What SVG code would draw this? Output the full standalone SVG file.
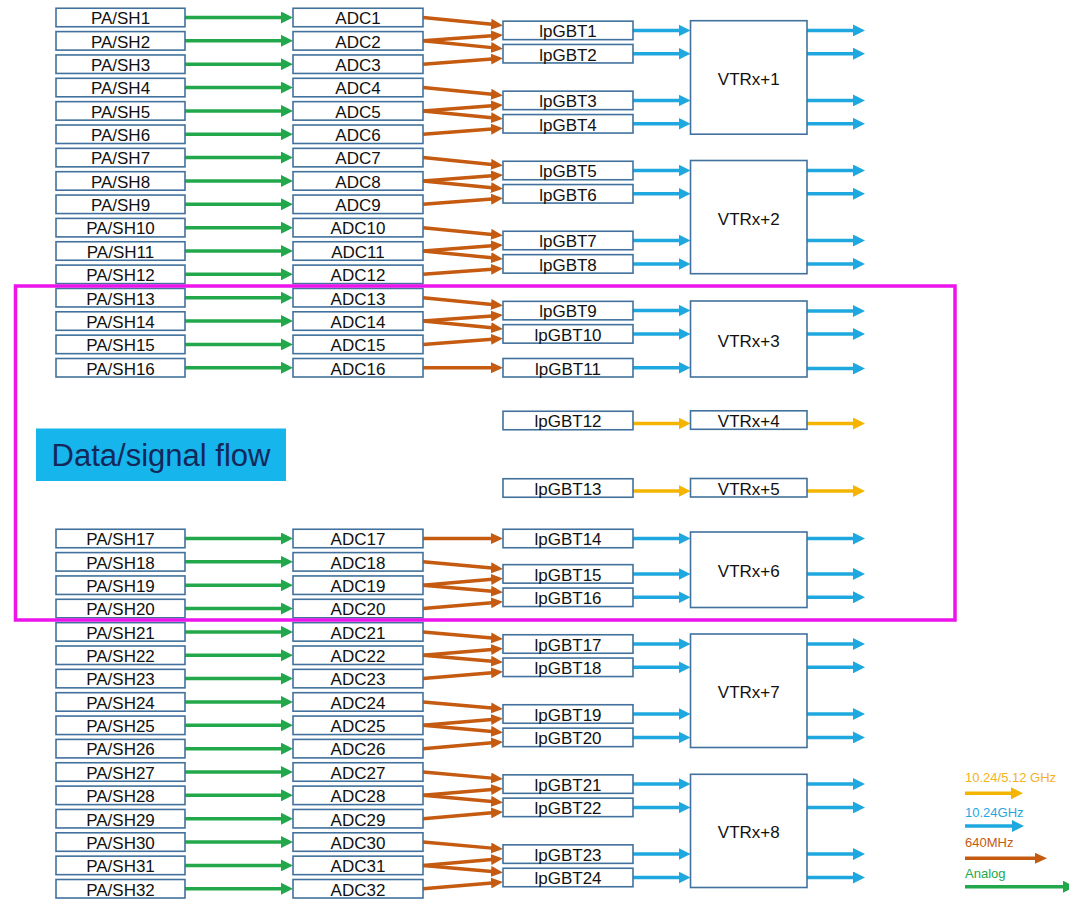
<svg xmlns="http://www.w3.org/2000/svg" width="1069" height="900" viewBox="0 0 1069 900">
<style>
.box{fill:#fff;stroke:#41719C;stroke-width:1.6}
.lbl{font-family:"Liberation Sans",Arial,sans-serif;font-size:17px;text-anchor:middle;fill:#111}
.leg{font-family:"Liberation Sans",Arial,sans-serif;font-size:13px}
.g{stroke:#22A84A;stroke-width:3.5;fill:none;marker-end:url(#mg)}
.br{stroke:#C55A11;stroke-width:3.5;fill:none;marker-end:url(#mb)}
.bl{stroke:#1FA8E0;stroke-width:3.5;fill:none;marker-end:url(#mc)}
.ye{stroke:#F5B400;stroke-width:3.5;fill:none;marker-end:url(#my)}
</style>
<defs>
<marker id="mg" markerUnits="userSpaceOnUse" markerWidth="12" markerHeight="12" refX="1" refY="6" orient="auto"><path d="M0,0 L12,6 L0,12 z" fill="#22A84A"/></marker>
<marker id="mb" markerUnits="userSpaceOnUse" markerWidth="12" markerHeight="11" refX="1" refY="5.5" orient="auto"><path d="M0,0 L12,5.5 L0,11 z" fill="#C55A11"/></marker>
<marker id="mc" markerUnits="userSpaceOnUse" markerWidth="12" markerHeight="12" refX="1" refY="6" orient="auto"><path d="M0,0 L12,6 L0,12 z" fill="#1FA8E0"/></marker>
<marker id="my" markerUnits="userSpaceOnUse" markerWidth="12" markerHeight="12" refX="1" refY="6" orient="auto"><path d="M0,0 L12,6 L0,12 z" fill="#F5B400"/></marker>
</defs>
<rect width="1069" height="900" fill="#fff"/>

<g id="connectors">
<!-- green PA/SH -> ADC -->
<line class="g" x1="185" y1="17.5" x2="282" y2="17.5"/>
<line class="g" x1="185" y1="40.85" x2="282" y2="40.85"/>
<line class="g" x1="185" y1="64.2" x2="282" y2="64.2"/>
<line class="g" x1="185" y1="87.55" x2="282" y2="87.55"/>
<line class="g" x1="185" y1="110.9" x2="282" y2="110.9"/>
<line class="g" x1="185" y1="134.25" x2="282" y2="134.25"/>
<line class="g" x1="185" y1="157.6" x2="282" y2="157.6"/>
<line class="g" x1="185" y1="180.95" x2="282" y2="180.95"/>
<line class="g" x1="185" y1="204.3" x2="282" y2="204.3"/>
<line class="g" x1="185" y1="227.65" x2="282" y2="227.65"/>
<line class="g" x1="185" y1="251" x2="282" y2="251"/>
<line class="g" x1="185" y1="274.35" x2="282" y2="274.35"/>
<line class="g" x1="185" y1="297.7" x2="282" y2="297.7"/>
<line class="g" x1="185" y1="321.05" x2="282" y2="321.05"/>
<line class="g" x1="185" y1="344.4" x2="282" y2="344.4"/>
<line class="g" x1="185" y1="367.75" x2="282" y2="367.75"/>
<line class="g" x1="185" y1="538.5" x2="282" y2="538.5"/>
<line class="g" x1="185" y1="561.85" x2="282" y2="561.85"/>
<line class="g" x1="185" y1="585.2" x2="282" y2="585.2"/>
<line class="g" x1="185" y1="608.55" x2="282" y2="608.55"/>
<line class="g" x1="185" y1="631.9" x2="282" y2="631.9"/>
<line class="g" x1="185" y1="655.25" x2="282" y2="655.25"/>
<line class="g" x1="185" y1="678.6" x2="282" y2="678.6"/>
<line class="g" x1="185" y1="701.95" x2="282" y2="701.95"/>
<line class="g" x1="185" y1="725.3" x2="282" y2="725.3"/>
<line class="g" x1="185" y1="748.65" x2="282" y2="748.65"/>
<line class="g" x1="185" y1="772" x2="282" y2="772"/>
<line class="g" x1="185" y1="795.35" x2="282" y2="795.35"/>
<line class="g" x1="185" y1="818.7" x2="282" y2="818.7"/>
<line class="g" x1="185" y1="842.05" x2="282" y2="842.05"/>
<line class="g" x1="185" y1="865.4" x2="282" y2="865.4"/>
<line class="g" x1="185" y1="888.75" x2="282" y2="888.75"/>
<!-- brown ADC -> lpGBT -->
<line class="br" x1="423" y1="17.5" x2="492" y2="24.32"/>
<line class="br" x1="423" y1="40.85" x2="492" y2="35.72"/>
<line class="br" x1="423" y1="40.85" x2="492" y2="47.63"/>
<line class="br" x1="423" y1="64.2" x2="492" y2="59.02"/>
<line class="br" x1="423" y1="87.55" x2="492" y2="94.33"/>
<line class="br" x1="423" y1="110.9" x2="492" y2="105.72"/>
<line class="br" x1="423" y1="110.9" x2="492" y2="117.72"/>
<line class="br" x1="423" y1="134.25" x2="492" y2="129.12"/>
<line class="br" x1="423" y1="157.6" x2="492" y2="164.42"/>
<line class="br" x1="423" y1="180.95" x2="492" y2="175.82"/>
<line class="br" x1="423" y1="180.95" x2="492" y2="187.73"/>
<line class="br" x1="423" y1="204.3" x2="492" y2="199.12"/>
<line class="br" x1="423" y1="227.65" x2="492" y2="234.43"/>
<line class="br" x1="423" y1="251" x2="492" y2="245.82"/>
<line class="br" x1="423" y1="251" x2="492" y2="257.82"/>
<line class="br" x1="423" y1="274.35" x2="492" y2="269.22"/>
<line class="br" x1="423" y1="297.7" x2="492" y2="304.52"/>
<line class="br" x1="423" y1="321.05" x2="492" y2="315.92"/>
<line class="br" x1="423" y1="321.05" x2="492" y2="327.83"/>
<line class="br" x1="423" y1="344.4" x2="492" y2="339.22"/>
<line class="br" x1="423" y1="367.75" x2="492" y2="367.75"/>
<line class="br" x1="423" y1="538.5" x2="492" y2="538.5"/>
<line class="br" x1="423" y1="561.85" x2="492" y2="567.93"/>
<line class="br" x1="423" y1="585.2" x2="492" y2="579.33"/>
<line class="br" x1="423" y1="585.2" x2="492" y2="591.33"/>
<line class="br" x1="423" y1="608.55" x2="492" y2="602.72"/>
<line class="br" x1="423" y1="631.9" x2="492" y2="638.03"/>
<line class="br" x1="423" y1="655.25" x2="492" y2="649.42"/>
<line class="br" x1="423" y1="655.25" x2="492" y2="661.33"/>
<line class="br" x1="423" y1="678.6" x2="492" y2="672.73"/>
<line class="br" x1="423" y1="701.95" x2="492" y2="708.03"/>
<line class="br" x1="423" y1="725.3" x2="492" y2="719.43"/>
<line class="br" x1="423" y1="725.3" x2="492" y2="731.43"/>
<line class="br" x1="423" y1="748.65" x2="492" y2="742.82"/>
<line class="br" x1="423" y1="772" x2="492" y2="778.13"/>
<line class="br" x1="423" y1="795.35" x2="492" y2="789.52"/>
<line class="br" x1="423" y1="795.35" x2="492" y2="801.43"/>
<line class="br" x1="423" y1="818.7" x2="492" y2="812.83"/>
<line class="br" x1="423" y1="842.05" x2="492" y2="848.13"/>
<line class="br" x1="423" y1="865.4" x2="492" y2="859.53"/>
<line class="br" x1="423" y1="865.4" x2="492" y2="871.53"/>
<line class="br" x1="423" y1="888.75" x2="492" y2="882.92"/>
<!-- blue lpGBT -> VTRx and outputs -->
<path class="bl" d="M633,30.4H679.5"/><path class="bl" d="M807,30.4H854"/>
<path class="bl" d="M633,53.7H679.5"/><path class="bl" d="M807,53.7H854"/>
<path class="bl" d="M633,100.4H679.5"/><path class="bl" d="M807,100.4H854"/>
<path class="bl" d="M633,123.8H679.5"/><path class="bl" d="M807,123.8H854"/>
<path class="bl" d="M633,170.5H679.5"/><path class="bl" d="M807,170.5H854"/>
<path class="bl" d="M633,193.8H679.5"/><path class="bl" d="M807,193.8H854"/>
<path class="bl" d="M633,240.5H679.5"/><path class="bl" d="M807,240.5H854"/>
<path class="bl" d="M633,263.9H679.5"/><path class="bl" d="M807,263.9H854"/>
<path class="bl" d="M633,310.6H679.5"/><path class="bl" d="M807,311H854"/>
<path class="bl" d="M633,333.9H679.5"/><path class="bl" d="M807,334H854"/>
<path class="bl" d="M633,367.75H679.5"/><path class="bl" d="M807,368.5H854"/>
<path class="bl" d="M633,538.5H679.5"/><path class="bl" d="M807,538.5H854"/>
<path class="bl" d="M633,573.9H679.5"/><path class="bl" d="M807,573.9H854"/>
<path class="bl" d="M633,597.3H679.5"/><path class="bl" d="M807,597.3H854"/>
<path class="bl" d="M633,644H679.5"/><path class="bl" d="M807,644H854"/>
<path class="bl" d="M633,667.3H679.5"/><path class="bl" d="M807,667.3H854"/>
<path class="bl" d="M633,714H679.5"/><path class="bl" d="M807,714H854"/>
<path class="bl" d="M633,737.4H679.5"/><path class="bl" d="M807,737.4H854"/>
<path class="bl" d="M633,784.1H679.5"/><path class="bl" d="M807,784.1H854"/>
<path class="bl" d="M633,807.4H679.5"/><path class="bl" d="M807,807.4H854"/>
<path class="bl" d="M633,854.1H679.5"/><path class="bl" d="M807,854.1H854"/>
<path class="bl" d="M633,877.5H679.5"/><path class="bl" d="M807,877.5H854"/>
<!-- yellow -->
<path class="ye" d="M633,423.5H679.5"/><path class="ye" d="M807,423.5H854"/>
<path class="ye" d="M633,491H679.5"/><path class="ye" d="M807,491H854"/>
</g>

<g id="pash">
<g id="pash1"><rect class="box" x="56" y="8.25" width="129" height="18.5"/><text class="lbl" x="120.5" y="24.3">PA/SH1</text></g>
<g id="pash2"><rect class="box" x="56" y="31.6" width="129" height="18.5"/><text class="lbl" x="120.5" y="47.65">PA/SH2</text></g>
<g id="pash3"><rect class="box" x="56" y="54.95" width="129" height="18.5"/><text class="lbl" x="120.5" y="71">PA/SH3</text></g>
<g id="pash4"><rect class="box" x="56" y="78.3" width="129" height="18.5"/><text class="lbl" x="120.5" y="94.35">PA/SH4</text></g>
<g id="pash5"><rect class="box" x="56" y="101.65" width="129" height="18.5"/><text class="lbl" x="120.5" y="117.7">PA/SH5</text></g>
<g id="pash6"><rect class="box" x="56" y="125" width="129" height="18.5"/><text class="lbl" x="120.5" y="141.05">PA/SH6</text></g>
<g id="pash7"><rect class="box" x="56" y="148.35" width="129" height="18.5"/><text class="lbl" x="120.5" y="164.4">PA/SH7</text></g>
<g id="pash8"><rect class="box" x="56" y="171.7" width="129" height="18.5"/><text class="lbl" x="120.5" y="187.75">PA/SH8</text></g>
<g id="pash9"><rect class="box" x="56" y="195.05" width="129" height="18.5"/><text class="lbl" x="120.5" y="211.1">PA/SH9</text></g>
<g id="pash10"><rect class="box" x="56" y="218.4" width="129" height="18.5"/><text class="lbl" x="120.5" y="234.45">PA/SH10</text></g>
<g id="pash11"><rect class="box" x="56" y="241.75" width="129" height="18.5"/><text class="lbl" x="120.5" y="257.8">PA/SH11</text></g>
<g id="pash12"><rect class="box" x="56" y="265.1" width="129" height="18.5"/><text class="lbl" x="120.5" y="281.15">PA/SH12</text></g>
<g id="pash13"><rect class="box" x="56" y="288.45" width="129" height="18.5"/><text class="lbl" x="120.5" y="304.5">PA/SH13</text></g>
<g id="pash14"><rect class="box" x="56" y="311.8" width="129" height="18.5"/><text class="lbl" x="120.5" y="327.85">PA/SH14</text></g>
<g id="pash15"><rect class="box" x="56" y="335.15" width="129" height="18.5"/><text class="lbl" x="120.5" y="351.2">PA/SH15</text></g>
<g id="pash16"><rect class="box" x="56" y="358.5" width="129" height="18.5"/><text class="lbl" x="120.5" y="374.55">PA/SH16</text></g>
<g id="pash17"><rect class="box" x="56" y="529.25" width="129" height="18.5"/><text class="lbl" x="120.5" y="545.3">PA/SH17</text></g>
<g id="pash18"><rect class="box" x="56" y="552.6" width="129" height="18.5"/><text class="lbl" x="120.5" y="568.65">PA/SH18</text></g>
<g id="pash19"><rect class="box" x="56" y="575.95" width="129" height="18.5"/><text class="lbl" x="120.5" y="592">PA/SH19</text></g>
<g id="pash20"><rect class="box" x="56" y="599.3" width="129" height="18.5"/><text class="lbl" x="120.5" y="615.35">PA/SH20</text></g>
<g id="pash21"><rect class="box" x="56" y="622.65" width="129" height="18.5"/><text class="lbl" x="120.5" y="638.7">PA/SH21</text></g>
<g id="pash22"><rect class="box" x="56" y="646" width="129" height="18.5"/><text class="lbl" x="120.5" y="662.05">PA/SH22</text></g>
<g id="pash23"><rect class="box" x="56" y="669.35" width="129" height="18.5"/><text class="lbl" x="120.5" y="685.4">PA/SH23</text></g>
<g id="pash24"><rect class="box" x="56" y="692.7" width="129" height="18.5"/><text class="lbl" x="120.5" y="708.75">PA/SH24</text></g>
<g id="pash25"><rect class="box" x="56" y="716.05" width="129" height="18.5"/><text class="lbl" x="120.5" y="732.1">PA/SH25</text></g>
<g id="pash26"><rect class="box" x="56" y="739.4" width="129" height="18.5"/><text class="lbl" x="120.5" y="755.45">PA/SH26</text></g>
<g id="pash27"><rect class="box" x="56" y="762.75" width="129" height="18.5"/><text class="lbl" x="120.5" y="778.8">PA/SH27</text></g>
<g id="pash28"><rect class="box" x="56" y="786.1" width="129" height="18.5"/><text class="lbl" x="120.5" y="802.15">PA/SH28</text></g>
<g id="pash29"><rect class="box" x="56" y="809.45" width="129" height="18.5"/><text class="lbl" x="120.5" y="825.5">PA/SH29</text></g>
<g id="pash30"><rect class="box" x="56" y="832.8" width="129" height="18.5"/><text class="lbl" x="120.5" y="848.85">PA/SH30</text></g>
<g id="pash31"><rect class="box" x="56" y="856.15" width="129" height="18.5"/><text class="lbl" x="120.5" y="872.2">PA/SH31</text></g>
<g id="pash32"><rect class="box" x="56" y="879.5" width="129" height="18.5"/><text class="lbl" x="120.5" y="895.55">PA/SH32</text></g>
</g>

<g id="adc">
<g id="adc1"><rect class="box" x="293" y="8.25" width="130" height="18.5"/><text class="lbl" x="358" y="24.3">ADC1</text></g>
<g id="adc2"><rect class="box" x="293" y="31.6" width="130" height="18.5"/><text class="lbl" x="358" y="47.65">ADC2</text></g>
<g id="adc3"><rect class="box" x="293" y="54.95" width="130" height="18.5"/><text class="lbl" x="358" y="71">ADC3</text></g>
<g id="adc4"><rect class="box" x="293" y="78.3" width="130" height="18.5"/><text class="lbl" x="358" y="94.35">ADC4</text></g>
<g id="adc5"><rect class="box" x="293" y="101.65" width="130" height="18.5"/><text class="lbl" x="358" y="117.7">ADC5</text></g>
<g id="adc6"><rect class="box" x="293" y="125" width="130" height="18.5"/><text class="lbl" x="358" y="141.05">ADC6</text></g>
<g id="adc7"><rect class="box" x="293" y="148.35" width="130" height="18.5"/><text class="lbl" x="358" y="164.4">ADC7</text></g>
<g id="adc8"><rect class="box" x="293" y="171.7" width="130" height="18.5"/><text class="lbl" x="358" y="187.75">ADC8</text></g>
<g id="adc9"><rect class="box" x="293" y="195.05" width="130" height="18.5"/><text class="lbl" x="358" y="211.1">ADC9</text></g>
<g id="adc10"><rect class="box" x="293" y="218.4" width="130" height="18.5"/><text class="lbl" x="358" y="234.45">ADC10</text></g>
<g id="adc11"><rect class="box" x="293" y="241.75" width="130" height="18.5"/><text class="lbl" x="358" y="257.8">ADC11</text></g>
<g id="adc12"><rect class="box" x="293" y="265.1" width="130" height="18.5"/><text class="lbl" x="358" y="281.15">ADC12</text></g>
<g id="adc13"><rect class="box" x="293" y="288.45" width="130" height="18.5"/><text class="lbl" x="358" y="304.5">ADC13</text></g>
<g id="adc14"><rect class="box" x="293" y="311.8" width="130" height="18.5"/><text class="lbl" x="358" y="327.85">ADC14</text></g>
<g id="adc15"><rect class="box" x="293" y="335.15" width="130" height="18.5"/><text class="lbl" x="358" y="351.2">ADC15</text></g>
<g id="adc16"><rect class="box" x="293" y="358.5" width="130" height="18.5"/><text class="lbl" x="358" y="374.55">ADC16</text></g>
<g id="adc17"><rect class="box" x="293" y="529.25" width="130" height="18.5"/><text class="lbl" x="358" y="545.3">ADC17</text></g>
<g id="adc18"><rect class="box" x="293" y="552.6" width="130" height="18.5"/><text class="lbl" x="358" y="568.65">ADC18</text></g>
<g id="adc19"><rect class="box" x="293" y="575.95" width="130" height="18.5"/><text class="lbl" x="358" y="592">ADC19</text></g>
<g id="adc20"><rect class="box" x="293" y="599.3" width="130" height="18.5"/><text class="lbl" x="358" y="615.35">ADC20</text></g>
<g id="adc21"><rect class="box" x="293" y="622.65" width="130" height="18.5"/><text class="lbl" x="358" y="638.7">ADC21</text></g>
<g id="adc22"><rect class="box" x="293" y="646" width="130" height="18.5"/><text class="lbl" x="358" y="662.05">ADC22</text></g>
<g id="adc23"><rect class="box" x="293" y="669.35" width="130" height="18.5"/><text class="lbl" x="358" y="685.4">ADC23</text></g>
<g id="adc24"><rect class="box" x="293" y="692.7" width="130" height="18.5"/><text class="lbl" x="358" y="708.75">ADC24</text></g>
<g id="adc25"><rect class="box" x="293" y="716.05" width="130" height="18.5"/><text class="lbl" x="358" y="732.1">ADC25</text></g>
<g id="adc26"><rect class="box" x="293" y="739.4" width="130" height="18.5"/><text class="lbl" x="358" y="755.45">ADC26</text></g>
<g id="adc27"><rect class="box" x="293" y="762.75" width="130" height="18.5"/><text class="lbl" x="358" y="778.8">ADC27</text></g>
<g id="adc28"><rect class="box" x="293" y="786.1" width="130" height="18.5"/><text class="lbl" x="358" y="802.15">ADC28</text></g>
<g id="adc29"><rect class="box" x="293" y="809.45" width="130" height="18.5"/><text class="lbl" x="358" y="825.5">ADC29</text></g>
<g id="adc30"><rect class="box" x="293" y="832.8" width="130" height="18.5"/><text class="lbl" x="358" y="848.85">ADC30</text></g>
<g id="adc31"><rect class="box" x="293" y="856.15" width="130" height="18.5"/><text class="lbl" x="358" y="872.2">ADC31</text></g>
<g id="adc32"><rect class="box" x="293" y="879.5" width="130" height="18.5"/><text class="lbl" x="358" y="895.55">ADC32</text></g>
</g>

<g id="lpgbt">
<g id="lpgbt1"><rect class="box" x="503" y="21.15" width="130" height="18.5"/><text class="lbl" x="568" y="37.2">lpGBT1</text></g>
<g id="lpgbt2"><rect class="box" x="503" y="44.45" width="130" height="18.5"/><text class="lbl" x="568" y="60.5">lpGBT2</text></g>
<g id="lpgbt3"><rect class="box" x="503" y="91.15" width="130" height="18.5"/><text class="lbl" x="568" y="107.2">lpGBT3</text></g>
<g id="lpgbt4"><rect class="box" x="503" y="114.55" width="130" height="18.5"/><text class="lbl" x="568" y="130.6">lpGBT4</text></g>
<g id="lpgbt5"><rect class="box" x="503" y="161.25" width="130" height="18.5"/><text class="lbl" x="568" y="177.3">lpGBT5</text></g>
<g id="lpgbt6"><rect class="box" x="503" y="184.55" width="130" height="18.5"/><text class="lbl" x="568" y="200.6">lpGBT6</text></g>
<g id="lpgbt7"><rect class="box" x="503" y="231.25" width="130" height="18.5"/><text class="lbl" x="568" y="247.3">lpGBT7</text></g>
<g id="lpgbt8"><rect class="box" x="503" y="254.65" width="130" height="18.5"/><text class="lbl" x="568" y="270.7">lpGBT8</text></g>
<g id="lpgbt9"><rect class="box" x="503" y="301.35" width="130" height="18.5"/><text class="lbl" x="568" y="317.4">lpGBT9</text></g>
<g id="lpgbt10"><rect class="box" x="503" y="324.65" width="130" height="18.5"/><text class="lbl" x="568" y="340.7">lpGBT10</text></g>
<g id="lpgbt11"><rect class="box" x="503" y="358.5" width="130" height="18.5"/><text class="lbl" x="568" y="374.55">lpGBT11</text></g>
<g id="lpgbt12"><rect class="box" x="503" y="411.25" width="130" height="18.5"/><text class="lbl" x="568" y="427.3">lpGBT12</text></g>
<g id="lpgbt13"><rect class="box" x="503" y="478.75" width="130" height="18.5"/><text class="lbl" x="568" y="494.8">lpGBT13</text></g>
<g id="lpgbt14"><rect class="box" x="503" y="529.25" width="130" height="18.5"/><text class="lbl" x="568" y="545.3">lpGBT14</text></g>
<g id="lpgbt15"><rect class="box" x="503" y="564.65" width="130" height="18.5"/><text class="lbl" x="568" y="580.7">lpGBT15</text></g>
<g id="lpgbt16"><rect class="box" x="503" y="588.05" width="130" height="18.5"/><text class="lbl" x="568" y="604.1">lpGBT16</text></g>
<g id="lpgbt17"><rect class="box" x="503" y="634.75" width="130" height="18.5"/><text class="lbl" x="568" y="650.8">lpGBT17</text></g>
<g id="lpgbt18"><rect class="box" x="503" y="658.05" width="130" height="18.5"/><text class="lbl" x="568" y="674.1">lpGBT18</text></g>
<g id="lpgbt19"><rect class="box" x="503" y="704.75" width="130" height="18.5"/><text class="lbl" x="568" y="720.8">lpGBT19</text></g>
<g id="lpgbt20"><rect class="box" x="503" y="728.15" width="130" height="18.5"/><text class="lbl" x="568" y="744.2">lpGBT20</text></g>
<g id="lpgbt21"><rect class="box" x="503" y="774.85" width="130" height="18.5"/><text class="lbl" x="568" y="790.9">lpGBT21</text></g>
<g id="lpgbt22"><rect class="box" x="503" y="798.15" width="130" height="18.5"/><text class="lbl" x="568" y="814.2">lpGBT22</text></g>
<g id="lpgbt23"><rect class="box" x="503" y="844.85" width="130" height="18.5"/><text class="lbl" x="568" y="860.9">lpGBT23</text></g>
<g id="lpgbt24"><rect class="box" x="503" y="868.25" width="130" height="18.5"/><text class="lbl" x="568" y="884.3">lpGBT24</text></g>
</g>

<g id="vtrx">
<g id="vtrx1"><rect class="box" x="690.5" y="20.7" width="116.5" height="113.5"/><text class="lbl" x="748.75" y="84.9">VTRx+1</text></g>
<g id="vtrx2"><rect class="box" x="690.5" y="160.5" width="116.5" height="113.2"/><text class="lbl" x="748.75" y="224.6">VTRx+2</text></g>
<g id="vtrx3"><rect class="box" x="690.5" y="301" width="116.5" height="76"/><text class="lbl" x="748.75" y="346.5">VTRx+3</text></g>
<g id="vtrx4"><rect class="box" x="690.5" y="410.8" width="116.5" height="18.5"/><text class="lbl" x="748.75" y="426.9">VTRx+4</text></g>
<g id="vtrx5"><rect class="box" x="690.5" y="478.5" width="116.5" height="18.5"/><text class="lbl" x="748.75" y="494.6">VTRx+5</text></g>
<g id="vtrx6"><rect class="box" x="690.5" y="532" width="116.5" height="75.5"/><text class="lbl" x="748.75" y="577.2">VTRx+6</text></g>
<g id="vtrx7"><rect class="box" x="690.5" y="634" width="116.5" height="113.5"/><text class="lbl" x="748.75" y="698.2">VTRx+7</text></g>
<g id="vtrx8"><rect class="box" x="690.5" y="774.3" width="116.5" height="113.2"/><text class="lbl" x="748.75" y="838.4">VTRx+8</text></g>
</g>

<g id="highlight">
<rect x="15.5" y="286" width="939.5" height="334" fill="none" stroke="#EC13EC" stroke-width="3.5"/>
</g>

<g id="title">
<rect x="36" y="428.5" width="250" height="52.5" fill="#16B5EC"/>
<text x="161" y="466" font-family="'Liberation Sans',Arial,sans-serif" font-size="31" text-anchor="middle" fill="#14285A">Data/signal flow</text>
</g>

<g id="legend">
<text class="leg" x="965" y="781.5" fill="#F2B21C">10.24/5.12 GHz</text>
<path class="ye" d="M965,793.3H1012"/>
<text class="leg" x="965" y="816.5" fill="#1FA8E0">10.24GHz</text>
<path class="bl" d="M965,826H1013"/>
<text class="leg" x="965" y="847" fill="#C55A11">640MHz</text>
<path class="br" d="M965,858.3H1036"/>
<text class="leg" x="965" y="877.5" fill="#22A84A">Analog</text>
<path class="g" d="M965,886.7H1064"/>
</g>
</svg>
